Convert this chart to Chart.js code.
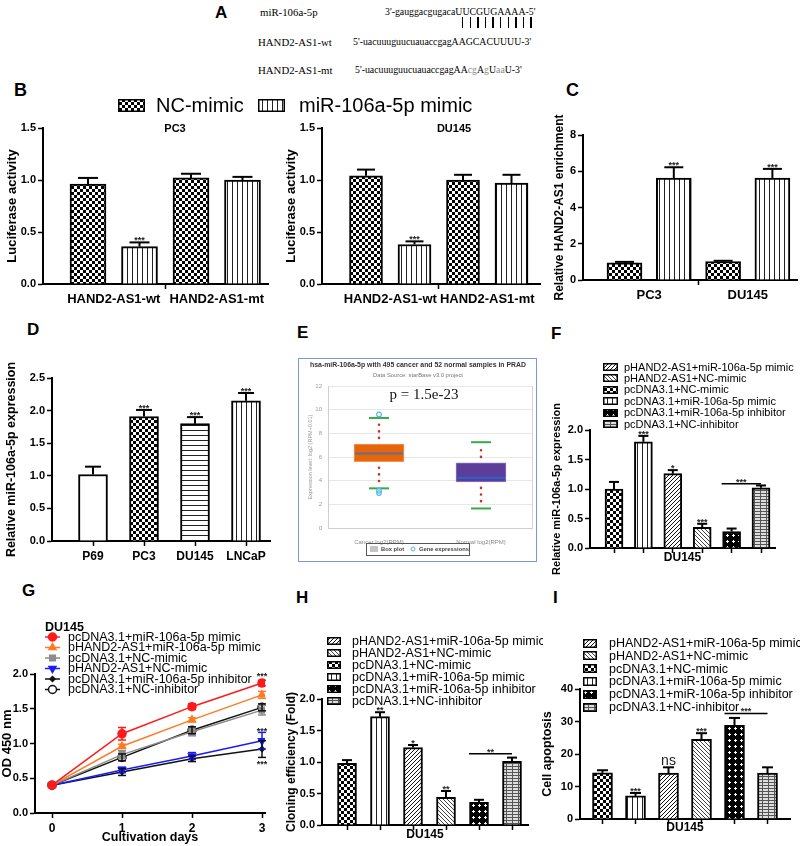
<!DOCTYPE html>
<html>
<head>
<meta charset="utf-8">
<script src="https://cdn.jsdelivr.net/npm/chart.js@4.4.1/dist/chart.umd.min.js"></script>
<style>
  html, body { margin: 0; padding: 0; background: #fff; }
  body { position: relative; width: 800px; height: 846px; overflow: hidden; font-family: 'Liberation Sans', Arial, sans-serif; }
  .t { position: absolute; white-space: nowrap; line-height: 1; }
  .panel { font-weight: bold; font-size: 17px; }
  .name { font-family: 'Liberation Serif', 'Times New Roman', serif; font-size: 10.8px; }
  .seq { font-family: 'Liberation Serif', 'Times New Roman', serif; font-size: 9.8px; }
  .mut { color: #8c8c8c; }
  canvas { position: absolute; }
</style>
</head>
<body>
<div class="t panel" style="left:215px;top:4px">A</div>
<div class="t name" style="left:260px;top:7px">miR-106a-5p</div>
<div class="t seq" style="left:385px;top:7px">3'-gauggacgugacaUUCGUGAAAA-5'</div>
<div class="t" style="left:462px;top:17px;width:70px;height:11px;background:repeating-linear-gradient(90deg,#000 0 1.5px,transparent 1.5px 7.6px)"></div>
<div class="t name" style="left:258px;top:37px">HAND2-AS1-wt</div>
<div class="t seq" style="left:353px;top:37px">5'-uacuuuguucuauaccgagAAGCACUUUU-3'</div>
<div class="t name" style="left:258px;top:65px">HAND2-AS1-mt</div>
<div class="t seq" style="left:355px;top:65px">5'-uacuuuguucuauaccgagAA<span class="mut">cg</span>A<span class="mut">g</span>U<span class="mut">aa</span>U-3'</div>

<div class="t panel" style="left:14px;top:81px;font-size:18px">B</div>
<div class="t panel" style="left:566px;top:81px;font-size:18px">C</div>
<div class="t panel" style="left:27px;top:321px">D</div>
<div class="t panel" style="left:297px;top:324px">E</div>
<div class="t panel" style="left:551px;top:325px">F</div>
<div class="t panel" style="left:22px;top:582px">G</div>
<div class="t panel" style="left:296px;top:589px">H</div>
<div class="t panel" style="left:553px;top:589px">I</div>

<script>
// ---------- data ----------
const bCategories = ['HAND2-AS1-wt', 'HAND2-AS1-mt'];
const bSeries = ['NC-mimic', 'miR-106a-5p mimic'];
const pc3NC = [0.96, 1.02];
const pc3NCErr = [0.06, 0.04];
const pc3Mimic = [0.36, 1.00];
const pc3MimicErr = [0.04, 0.03];
const pc3MimicStars = ['***', ''];
const du145NC = [1.04, 1.00];
const du145NCErr = [0.06, 0.05];
const du145Mimic = [0.38, 0.97];
const du145MimicErr = [0.03, 0.08];
const du145MimicStars = ['***', ''];

const cCategories = ['PC3', 'DU145'];
const cNC = [0.95, 1.02];
const cNCErr = [0.05, 0.04];
const cMimic = [5.62, 5.63];
const cMimicErr = [0.6, 0.5];
const cMimicStars = ['***', '***'];

const dCategories = ['P69', 'PC3', 'DU145', 'LNCaP'];
const dValues = [1.02, 1.91, 1.80, 2.15];
const dErrors = [0.12, 0.10, 0.10, 0.12];
const dStars = ['', '***', '***', '***'];

const eCategories = ['Cancer log2(RPM)', 'Normal log2(RPM)'];
const eLow = [3.35, 1.65];
const eQ1 = [5.6, 3.9];
const eMedian = [6.3, 4.25];
const eQ3 = [7.1, 5.5];
const eHigh = [9.3, 7.25];
const eOutliers = [[9.6, 3.15, 2.95], []];

// legend order of the six groups in F, H, I
const groupNames = [
  'pHAND2-AS1+miR-106a-5p mimic',
  'pHAND2-AS1+NC-mimic',
  'pcDNA3.1+NC-mimic',
  'pcDNA3.1+miR-106a-5p mimic',
  'pcDNA3.1+miR-106a-5p inhibitor',
  'pcDNA3.1+NC-inhibitor'
];
const barGroups = [2, 3, 0, 1, 4, 5]; // bars left to right
const fValues = [1.00, 1.80, 1.26, 0.35, 0.28, 1.02];
const fErrors = [0.12, 0.10, 0.06, 0.06, 0.05, 0.04];
const fStars = ['', '***', '*', '***', '', ''];
const fBracket = 1.09;
const fBracketText = '***';
const hValues = [0.98, 1.72, 1.23, 0.44, 0.36, 1.01];
const hErrors = [0.05, 0.07, 0.04, 0.10, 0.04, 0.06];
const hStars = ['', '**', '*', '**', '', ''];
const hBracket = 1.13;
const hBracketText = '**';
const iValues = [14.2, 7.1, 14.1, 24.5, 28.8, 14.1];
const iErrors = [0.8, 0.9, 1.8, 1.9, 2.3, 1.8];
const iStars = ['', '***', 'ns', '***', '', ''];
const iBracket = 32.5;
const iBracketText = '***';

const gDays = [0, 1, 2, 3];
const gSeries = [
  'pcDNA3.1+miR-106a-5p mimic',
  'pHAND2-AS1+miR-106a-5p mimic',
  'pcDNA3.1+NC-mimic',
  'pHAND2-AS1+NC-mimic',
  'pcDNA3.1+miR-106a-5p inhibitor',
  'pcDNA3.1+NC-inhibitor'
];
const gPcMimic = [0.40, 1.14, 1.53, 1.87];
const gHandMimic = [0.40, 0.96, 1.34, 1.70];
const gPcNC = [0.40, 0.84, 1.17, 1.48];
const gHandNC = [0.40, 0.62, 0.82, 1.04];
const gInhibitor = [0.40, 0.59, 0.78, 0.92];
const gNCInhibitor = [0.40, 0.80, 1.19, 1.52];
const gPcMimicErr = [0, 0.09, 0.04, 0.04];
const gHandMimicErr = [0, 0.03, 0.03, 0.05];
const gPcNCErr = [0, 0.06, 0.06, 0.07];
const gHandNCErr = [0, 0.04, 0.05, 0.12];
const gInhibitorErr = [0, 0.05, 0.04, 0.12];
const gNCInhibitorErr = [0, 0.05, 0.05, 0.05];
const gNotes = [{day: 3, value: 1.99, text: '***'}, {day: 3, value: 1.2, text: '***'}, {day: 3, value: 0.72, text: '***'}];

// ---------- helpers ----------
const FAMILY = "'Liberation Sans', Arial, sans-serif";
Chart.defaults.font.family = FAMILY;
Chart.defaults.color = '#000';

function makePattern(kind) {
  const c = document.createElement('canvas');
  const x = c.getContext('2d');
  const px = (a, b, col) => { x.fillStyle = col; x.fillRect(a, b, 1, 1); };
  if (kind === 'checker') {
    c.width = c.height = 6;
    x.fillStyle = '#fff'; x.fillRect(0, 0, 6, 6);
    x.fillStyle = '#000'; x.fillRect(0, 0, 3, 3); x.fillRect(3, 3, 3, 3);
  } else if (kind === 'vlines') {
    c.width = 5; c.height = 4;
    x.fillStyle = '#fff'; x.fillRect(0, 0, 5, 4);
    x.fillStyle = '#222'; x.fillRect(2, 0, 1, 4);
  } else if (kind === 'hlines') {
    c.width = 4; c.height = 5;
    x.fillStyle = '#fff'; x.fillRect(0, 0, 4, 5);
    x.fillStyle = '#222'; x.fillRect(0, 2, 4, 1);
  } else if (kind === 'diagR') {
    c.width = c.height = 4;
    x.fillStyle = '#fff'; x.fillRect(0, 0, 4, 4);
    for (let i = 0; i < 4; i++) px(i, 3 - i, '#111');
  } else if (kind === 'diagL') {
    c.width = c.height = 4;
    x.fillStyle = '#fff'; x.fillRect(0, 0, 4, 4);
    for (let i = 0; i < 4; i++) px(i, i, '#444');
  } else if (kind === 'dots') {
    c.width = c.height = 6;
    x.fillStyle = '#000'; x.fillRect(0, 0, 6, 6);
    x.fillStyle = '#fff'; x.fillRect(2, 3, 3, 1); x.fillRect(3, 2, 1, 3);
  } else if (kind === 'brick') {
    c.width = 6; c.height = 3;
    x.fillStyle = '#ddd'; x.fillRect(0, 0, 6, 3);
    x.fillStyle = '#555'; x.fillRect(0, 0, 6, 1); x.fillRect(0, 1, 1, 2);
  } else {
    c.width = c.height = 2;
    x.fillStyle = '#fff'; x.fillRect(0, 0, 2, 2);
  }
  return x.createPattern(c, 'repeat');
}
const PAT = {};
['checker', 'vlines', 'hlines', 'diagR', 'diagL', 'dots', 'brick', 'none'].forEach(k => PAT[k] = makePattern(k));
const groupPatterns = ['diagR', 'diagL', 'checker', 'vlines', 'dots', 'brick'];

function seg(ctx, x1, y1, x2, y2) { ctx.beginPath(); ctx.moveTo(x1, y1); ctx.lineTo(x2, y2); ctx.stroke(); }

function drawLegend(ctx, lg, ox, oy) {
  ctx.font = `${lg.weight || 'normal'} ${lg.size}px ${FAMILY}`;
  ctx.textBaseline = 'middle';
  ctx.textAlign = 'left';
  lg.items.forEach((it, k) => {
    const y = lg.y + k * (lg.dy || 0) - oy;
    const bx0 = it.x !== undefined ? it.x : lg.x;
    const tx0 = it.textX !== undefined ? it.textX : lg.textX;
    if (lg.type === 'line') {
      ctx.strokeStyle = it.color; ctx.lineWidth = 1.5;
      seg(ctx, lg.x1 - ox, y, lg.x2 - ox, y);
      ctx.fillStyle = it.fill; ctx.strokeStyle = it.color;
      Chart.helpers.drawPoint(ctx, {pointStyle: it.pointStyle, radius: it.radius, rotation: it.rotation || 0, borderWidth: 1.5}, (lg.x1 + lg.x2) / 2 - ox, y);
    } else {
      const bx = bx0 - ox, by = Math.round(y - lg.boxH / 2);
      ctx.fillStyle = it.fill; ctx.fillRect(bx, by, lg.boxW, lg.boxH);
      ctx.strokeStyle = '#000'; ctx.lineWidth = 1.5;
      ctx.strokeRect(bx + 0.75, by + 0.75, lg.boxW - 1.5, lg.boxH - 1.5);
    }
    ctx.fillStyle = '#000';
    ctx.fillText(it.label, tx0 - ox, y + 0.5);
  });
}

const EXTRAS = new Map();

const extras = {
  id: 'extras',
  beforeDraw(chart) {
    const o = EXTRAS.get(chart.canvas) || {};
    if (!o.frame) return;
    const ctx = chart.ctx, a = chart.chartArea;
    ctx.save();
    ctx.fillStyle = '#fff'; ctx.fillRect(0, 0, chart.width, chart.height);
    ctx.strokeStyle = o.frame; ctx.lineWidth = 1;
    ctx.strokeRect(0.5, 0.5, chart.width - 1, chart.height - 1);
    ctx.strokeStyle = '#d4d4d4';
    ctx.strokeRect(a.left + 0.5, a.top + 0.5, a.right - a.left, a.bottom - a.top);
    ctx.restore();
  },
  afterDatasetsDraw(chart) {
    const o = EXTRAS.get(chart.canvas) || {};
    const ctx = chart.ctx, ys = chart.scales.y, xs = chart.scales.x;
    ctx.save();
    chart.data.datasets.forEach((ds, di) => {
      const meta = chart.getDatasetMeta(di);
      if (ds.box) {
        const b = ds.box;
        meta.data.forEach((el, i) => {
          const x = el.x, w = el.width;
          ctx.setLineDash([0.1, 6.5]); ctx.lineCap = 'round'; ctx.lineWidth = 2.6; ctx.strokeStyle = '#c8321e';
          seg(ctx, x, ys.getPixelForValue(b.q3[i]) - 6, x, ys.getPixelForValue(b.high[i]) + 3);
          seg(ctx, x, ys.getPixelForValue(b.q1[i]) + 6, x, ys.getPixelForValue(b.low[i]) - 3);
          ctx.setLineDash([]); ctx.lineCap = 'butt';
          ctx.strokeStyle = '#39a845'; ctx.lineWidth = 2;
          [b.high[i], b.low[i]].forEach(v => { const y = ys.getPixelForValue(v); seg(ctx, x - 10, y, x + 10, y); });
          ctx.strokeStyle = i === 0 ? '#5d6e95' : '#2f62c8';
          const ym = ys.getPixelForValue(b.median[i]);
          seg(ctx, x - w / 2 + 1, ym, x + w / 2 - 1, ym);
          ctx.strokeStyle = '#58b9ea'; ctx.lineWidth = 1.2;
          b.outliers[i].forEach(v => { ctx.beginPath(); ctx.arc(x, ys.getPixelForValue(v), 2.3, 0, Math.PI * 2); ctx.stroke(); });
        });
      }
      if (!ds.errors) return;
      meta.data.forEach((el, i) => {
        const v = ds.data[i].y, e = ds.errors[i];
        const cap = ds.capWidth || 8;
        const top = ys.getPixelForValue(v + e);
        ctx.strokeStyle = ds.errorColor || '#000';
        ctx.lineWidth = ds.errorWidth || 2;
        if (e > 0) {
          const bot = ds.errorBoth ? ys.getPixelForValue(v - e) : el.y;
          seg(ctx, el.x, bot, el.x, top);
          seg(ctx, el.x - cap / 2, top, el.x + cap / 2, top);
          if (ds.errorBoth) seg(ctx, el.x - cap / 2, bot, el.x + cap / 2, bot);
        }
        const s = ds.stars && ds.stars[i];
        if (s) {
          ctx.fillStyle = '#222';
          ctx.textAlign = 'center';
          ctx.textBaseline = 'alphabetic';
          if (s === 'ns') { ctx.font = `normal 14px ${FAMILY}`; ctx.fillText(s, el.x, top - 2); }
          else { ctx.font = `bold 9px ${FAMILY}`; ctx.fillText(s, el.x, top + 1); }
        }
      });
    });
    (o.brackets || []).forEach(b => {
      const m = chart.getDatasetMeta(0).data;
      const y = ys.getPixelForValue(b.value);
      ctx.strokeStyle = '#000'; ctx.lineWidth = 1.5;
      seg(ctx, m[b.from].x - 10, y, m[b.to].x, y);
      ctx.fillStyle = '#222'; ctx.font = `bold 9px ${FAMILY}`; ctx.textAlign = 'center'; ctx.textBaseline = 'alphabetic';
      ctx.fillText(b.text, (m[b.from].x - 10 + m[b.to].x) / 2, y + 1);
    });
    (o.notes || []).forEach(n => {
      ctx.fillStyle = '#222'; ctx.font = `bold 9px ${FAMILY}`; ctx.textAlign = 'center'; ctx.textBaseline = 'middle';
      ctx.fillText(n.text, xs.getPixelForValue(n.day), ys.getPixelForValue(n.value) + 2);
    });
    ctx.restore();
  },
  afterDraw(chart) {
    const o = EXTRAS.get(chart.canvas) || {};
    const ctx = chart.ctx, ox = o.left || 0, oy = o.top || 0;
    ctx.save();
    (o.shapes || []).forEach(s => {
      ctx.lineWidth = 1;
      if (s.type === 'rect') {
        if (s.fill) { ctx.fillStyle = s.fill; ctx.fillRect(s.x - ox, s.y - oy, s.w, s.h); }
        if (s.stroke) { ctx.strokeStyle = s.stroke; ctx.strokeRect(s.x - ox + 0.5, s.y - oy + 0.5, s.w, s.h); }
      } else {
        ctx.strokeStyle = s.stroke; ctx.beginPath(); ctx.arc(s.x - ox, s.y - oy, s.r, 0, Math.PI * 2); ctx.stroke();
      }
    });
    (o.texts || []).forEach(t => {
      ctx.font = t.font;
      ctx.fillStyle = t.color || '#000';
      ctx.textAlign = t.align || 'center';
      ctx.textBaseline = 'middle';
      ctx.fillText(t.text, t.x - ox, t.y - oy);
    });
    if (o.legend) drawLegend(ctx, o.legend, ox, oy);
    ctx.restore();
  }
};
Chart.register(extras);

function makeChart(box, config, ex) {
  const cv = document.createElement('canvas');
  const extraB = box.extraB || 0;
  const left = box.l - box.padL, top = box.t - box.padT;
  const w = box.r - box.l + box.padL + box.padR;
  const h = box.b - box.t + box.padT + box.padB + extraB;
  Object.assign(cv.style, {left: left + 'px', top: top + 'px', width: w + 'px', height: h + 'px'});
  cv.width = w; cv.height = h;
  document.body.appendChild(cv);
  EXTRAS.set(cv, Object.assign({left, top}, ex || {}));
  const opt = config.options;
  Object.assign(opt, {responsive: false, animation: false, devicePixelRatio: 1, events: []});
  opt.layout = {padding: {top: box.padT, right: box.padR, left: 0, bottom: extraB}};
  opt.scales.y.afterFit = s => { s.width = box.padL; };
  opt.scales.x.afterFit = s => { s.height = box.padB; };
  opt.plugins = {legend: {display: false}, tooltip: {enabled: false}};
  return new Chart(cv, config);
}

function valueAxis(max, step, title, decimals, tickSize, titleSize) {
  return {
    type: 'linear', min: 0, max,
    ticks: {stepSize: step, color: '#000', font: {size: tickSize || 11, weight: 'bold'}, padding: 2,
      callback: v => v.toFixed(decimals)},
    grid: {display: true, drawOnChartArea: false, drawTicks: true, tickLength: 5, tickColor: '#000', tickWidth: 1.5},
    border: {display: true, color: '#000', width: 2},
    title: {display: true, text: title, color: '#000', font: {size: titleSize || 13, weight: 'bold'}, padding: 0}
  };
}

// x axis in "bar slot" units: first bar centre c0 px, slot pitch px
function slotAxis(box, c0, pitch, tickValues, labels, gridOffset, title, tickSize) {
  const tickColor = gridOffset ? (ctx => ctx.index === 1 ? '#000' : 'rgba(0,0,0,0)') : '#000';
  const ax = {
    type: 'linear', offset: false,
    min: -(c0 - box.l) / pitch, max: (box.r - c0) / pitch,
    afterBuildTicks: s => { s.ticks = tickValues.map(v => ({value: v})); },
    ticks: {autoSkip: false, maxRotation: 0, color: '#000', font: {size: tickSize || 13, weight: 'bold'}, padding: 3,
      callback: (v, i) => labels[i] || ''},
    grid: {display: true, drawOnChartArea: false, drawTicks: true, tickLength: 5, offset: gridOffset, tickColor, tickWidth: 1.5},
    border: {display: true, color: '#000', width: 2}
  };
  if (title) ax.title = {display: true, text: title, color: '#000', font: {size: 12, weight: 'bold'}, padding: 0};
  return ax;
}

function barSet(values, errors, stars, fills, xs, thickness) {
  return {
    data: values.map((v, i) => ({x: xs[i], y: v})),
    errors, stars,
    backgroundColor: fills, borderColor: '#000', borderWidth: 2,
    barThickness: thickness, grouped: false, capWidth: Math.round(thickness * 0.55)
  };
}

// ---------- B : PC3 ----------
(function () {
  const box = {l: 43, r: 268, t: 128, b: 284, padL: 38, padT: 38, padR: 215, padB: 26};
  makeChart(box, {
    type: 'bar',
    data: {datasets: [
      barSet(pc3NC, pc3NCErr, null, PAT.checker, bCategories.map((c, i) => i * 2), 36),
      barSet(pc3Mimic, pc3MimicErr, pc3MimicStars, PAT.vlines, bCategories.map((c, i) => i * 2 + 1), 36)
    ]},
    options: {
      scales: {
        x: slotAxis(box, 88, 51.5, [0.5, 2.5], bCategories, true),
        y: valueAxis(1.5, 0.5, 'Luciferase activity', 1)
      }
    }
  }, {
    texts: [{text: 'PC3', x: 175, y: 129, font: `bold 11px ${FAMILY}`}],
    legend: {y: 105.5, boxW: 27, boxH: 13, size: 20,
      items: [
        {label: bSeries[0], fill: PAT.checker, x: 118, textX: 156},
        {label: bSeries[1], fill: PAT.vlines, x: 258, textX: 299}
      ]}
  });
})();

// ---------- B : DU145 ----------
(function () {
  const box = {l: 322, r: 540, t: 128, b: 284, padL: 38, padT: 12, padR: 10, padB: 26};
  makeChart(box, {
    type: 'bar',
    data: {datasets: [
      barSet(du145NC, du145NCErr, null, PAT.checker, bCategories.map((c, i) => i * 2), 33),
      barSet(du145Mimic, du145MimicErr, du145MimicStars, PAT.vlines, bCategories.map((c, i) => i * 2 + 1), 33)
    ]},
    options: {
      scales: {
        x: slotAxis(box, 366, 48.5, [0.5, 2.5], bCategories, true),
        y: valueAxis(1.5, 0.5, 'Luciferase activity', 1)
      }
    }
  }, {texts: [{text: 'DU145', x: 454, y: 129, font: `bold 11px ${FAMILY}`}]});
})();

// ---------- C ----------
(function () {
  const box = {l: 583, r: 797, t: 135, b: 280, padL: 31, padT: 45, padR: 3, padB: 24, extraB: 8};
  makeChart(box, {
    type: 'bar',
    data: {datasets: [
      barSet(cNC, cNCErr, null, PAT.checker, cCategories.map((c, i) => i * 2), 35),
      barSet(cMimic, cMimicErr, cMimicStars, PAT.vlines, cCategories.map((c, i) => i * 2 + 1), 35)
    ]},
    options: {
      scales: {
        x: slotAxis(box, 624.5, 49.3, [0.5, 2.5], cCategories, true),
        y: valueAxis(8, 2, 'Relative HAND2-AS1 enrichment', 0, 11, 12)
      }
    }
  });
})();

// ---------- D ----------
(function () {
  const box = {l: 52, r: 270, t: 378, b: 541, padL: 48, padT: 30, padR: 8, padB: 24, extraB: 10};
  makeChart(box, {
    type: 'bar',
    data: {datasets: [
      barSet(dValues, dErrors, dStars, [PAT.none, PAT.checker, PAT.hlines, PAT.vlines], dCategories.map((c, i) => i), 29)
    ]},
    options: {
      scales: {
        x: slotAxis(box, 93, 51, [0, 1, 2, 3], dCategories, false, null, 12),
        y: valueAxis(2.5, 0.5, 'Relative miR-106a-5p expression', 1, 11, 12.5)
      }
    }
  });
})();

// ---------- E ----------
(function () {
  const box = {l: 328, r: 532, t: 386, b: 528, padL: 30, padT: 28, padR: 5, padB: 34};
  makeChart(box, {
    type: 'bar',
    data: {datasets: [{
      data: eCategories.map((c, i) => ({x: i, y: [eQ1[i], eQ3[i]]})),
      backgroundColor: ['#e8650c', '#5c3d99'],
      borderColor: ['#f29a55', '#8a78c4'], borderWidth: 1, borderSkipped: false,
      barThickness: 50, grouped: false,
      box: {low: eLow, q1: eQ1, median: eMedian, q3: eQ3, high: eHigh, outliers: eOutliers}
    }]},
    options: {
      scales: {
        x: {
          type: 'linear', offset: false, min: -0.5, max: 1.5,
          afterBuildTicks: s => { s.ticks = eCategories.map((c, i) => ({value: i})); },
          ticks: {autoSkip: false, maxRotation: 0, color: '#888', font: {size: 6}, padding: 3, callback: (v, i) => eCategories[i]},
          grid: {display: false},
          border: {display: true, color: '#cfcfcf', width: 1}
        },
        y: {
          type: 'linear', min: 0, max: 12,
          ticks: {stepSize: 2, color: '#999', font: {size: 6}, padding: 6},
          grid: {display: true, drawOnChartArea: true, drawTicks: false, color: '#e7e7e7'},
          border: {display: true, color: '#cfcfcf', width: 1},
          title: {display: true, text: 'Expression level: log2 (RPM+0.01)', color: '#999', font: {size: 5.5}, padding: {top: 9, bottom: 0}}
        }
      }
    }
  }, {
    frame: '#7b9bc8',
    shapes: [
      {type: 'rect', x: 366, y: 543, w: 103, h: 12, stroke: '#555'},
      {type: 'rect', x: 370, y: 546, w: 8, h: 6, fill: '#c4c4c4'},
      {type: 'circle', x: 413, y: 549, r: 2, stroke: '#58b9ea'}
    ],
    texts: [
      {text: 'hsa-miR-106a-5p with 495 cancer and 52 normal samples in PRAD', x: 418, y: 365, font: `bold 6.9px ${FAMILY}`, color: '#333'},
      {text: 'Data Source: starBase v3.0 project', x: 418, y: 375, font: `normal 5.8px ${FAMILY}`, color: '#777'},
      {text: 'p = 1.5e-23', x: 424, y: 395, font: `normal 15px 'Liberation Serif', serif`, color: '#111'},
      {text: 'Box plot', x: 381, y: 549.5, font: `bold 5.8px ${FAMILY}`, color: '#444', align: 'left'},
      {text: 'Gene expressions', x: 419, y: 549.5, font: `bold 5.8px ${FAMILY}`, color: '#444', align: 'left'}
    ]
  });
})();

// ---------- F, H, I ----------
function groupChart(box, c0, pitch, thickness, values, errors, stars, bracket, bracketText, max, step, decimals, title, titleSize, legend) {
  return makeChart(box, {
    type: 'bar',
    data: {datasets: [
      barSet(values, errors, stars, barGroups.map(g => PAT[groupPatterns[g]]), values.map((v, i) => i), thickness)
    ]},
    options: {
      scales: {
        x: slotAxis(box, c0, pitch, [0, 1, 2, 3, 4, 5], [], false, 'DU145'),
        y: valueAxis(max, step, title, decimals, 11, titleSize)
      }
    }
  }, {
    brackets: [{from: 4, to: 5, value: bracket, text: bracketText}],
    legend: Object.assign({items: groupNames.map((n, g) => ({label: n, fill: PAT[groupPatterns[g]]}))}, legend)
  });
}

groupChart({l: 590, r: 775, t: 430, b: 548, padL: 40, padT: 72, padR: 20, padB: 17, extraB: 16},
  614, 29.4, 18, fValues, fErrors, fStars, fBracket, fBracketText, 2, 0.5, 1, 'Relative miR-106a-5p expression', 11,
  {x: 603, y: 367, dy: 11.4, boxW: 15, boxH: 8, textX: 624, size: 11});

groupChart({l: 322, r: 528, t: 699, b: 825, padL: 38, padT: 71, padR: 15, padB: 17},
  347, 33, 19, hValues, hErrors, hStars, hBracket, hBracketText, 2, 0.5, 1, 'Cloning efficiency (Fold)', 12,
  {x: 327, y: 641, dy: 12, boxW: 14, boxH: 8, textX: 352, size: 12.5});

groupChart({l: 580, r: 790, t: 689, b: 819, padL: 40, padT: 60, padR: 10, padB: 16},
  602.5, 33, 20, iValues, iErrors, iStars, iBracket, iBracketText, 40, 10, 0, 'Cell apoptosis', 12.5,
  {x: 583, y: 643, dy: 12.8, boxW: 14, boxH: 9, textX: 609, size: 12.5});

// ---------- G ----------
(function () {
  const box = {l: 35, r: 265, t: 674, b: 813, padL: 35, padT: 56, padR: 30, padB: 32};
  const values = [gPcMimic, gHandMimic, gPcNC, gHandNC, gInhibitor, gNCInhibitor];
  const errs = [gPcMimicErr, gHandMimicErr, gPcNCErr, gHandNCErr, gInhibitorErr, gNCInhibitorErr];
  const colors = ['#ff1a1a', '#ff7a22', '#8c8c8c', '#1a1aff', '#111111', '#111111'];
  const fills = ['#ff1a1a', '#ff7a22', '#8c8c8c', '#1a1aff', '#111111', '#ffffff'];
  const styles = ['circle', 'triangle', 'rect', 'triangle', 'rectRot', 'circle'];
  const rot = [0, 0, 0, 180, 0, 0];
  const radius = [4, 4, 4, 4, 2.5, 4];
  makeChart(box, {
    type: 'line',
    data: {datasets: gSeries.map((name, k) => ({
      label: name,
      data: gDays.map((d, i) => ({x: d, y: values[k][i]})),
      errors: errs[k], errorBoth: true, errorColor: colors[k], errorWidth: 1.5, capWidth: 8,
      borderColor: colors[k], backgroundColor: fills[k], borderWidth: 1.5, tension: 0,
      pointStyle: styles[k], pointRadius: radius[k], pointRotation: rot[k],
      pointBorderColor: colors[k], pointBackgroundColor: fills[k], pointBorderWidth: 1.5
    }))},
    options: {
      scales: {
        x: {
          type: 'linear', offset: false, min: -(52 - box.l) / 70, max: (box.r - 52) / 70,
          afterBuildTicks: s => { s.ticks = gDays.map(v => ({value: v})); },
          ticks: {autoSkip: false, color: '#000', font: {size: 12, weight: 'bold'}, padding: 3, callback: v => String(v)},
          grid: {display: true, drawOnChartArea: false, tickLength: 5, tickColor: '#000', tickWidth: 1.5},
          border: {display: true, color: '#000', width: 2},
          title: {display: true, text: 'Cultivation days', color: '#000', font: {size: 12.5, weight: 'bold'}, padding: 0}
        },
        y: valueAxis(2, 0.5, 'OD 450 nm', 1, 11, 13)
      }
    }
  }, {
    notes: gNotes,
    texts: [{text: 'DU145', x: 45, y: 628, font: `bold 12.5px ${FAMILY}`, align: 'left'}],
    legend: {type: 'line', x1: 45, x2: 60, y: 637, dy: 10.5, textX: 68, size: 12.5,
      items: gSeries.map((n, k) => ({label: n, color: colors[k], fill: fills[k], pointStyle: styles[k], rotation: rot[k], radius: radius[k]}))}
  });
})();
</script>
</body>
</html>
